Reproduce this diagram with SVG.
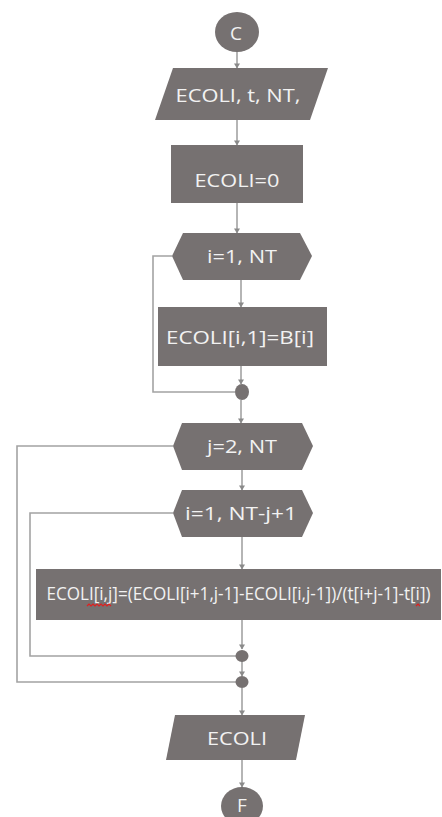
<svg xmlns="http://www.w3.org/2000/svg" width="442" height="817" viewBox="0 0 442 817">
<style>
.s{fill:#767171;stroke:none}
.t{fill:#f2f2f2;font-family:"Open Sans","Noto Sans","Liberation Sans",sans-serif;font-size:19px;text-anchor:middle}
.c{fill:none;stroke:#a3a3a3;stroke-width:1.6}
.sq{fill:none;stroke:#e02020;stroke-width:1.2}
</style>
<defs>
<marker id="b" markerWidth="7" markerHeight="6" refX="3.5" refY="5" markerUnits="userSpaceOnUse">
<path d="M0.5,0.5 L6.5,0.5 L3.5,5.5 Z" fill="#8a8a8a"/>
</marker>
</defs>
<g id="connectors">
<path class="c" d="M237,52 L237,68" marker-end="url(#b)"/>
<path class="c" d="M237,120 L237,145" marker-end="url(#b)"/>
<path class="c" d="M237,203 L237,233" marker-end="url(#b)"/>
<path class="c" d="M241,280 L241,307" marker-end="url(#b)"/>
<path class="c" d="M241,366 L241,384" marker-end="url(#b)"/>
<path class="c" d="M172,256 L153,256 L153,392 L235,392"/>
<path class="c" d="M241,400 L241,423" marker-end="url(#b)"/>
<path class="c" d="M242,470 L242,490" marker-end="url(#b)"/>
<path class="c" d="M242,537 L242,569" marker-end="url(#b)"/>
<path class="c" d="M242,620 L242,649" marker-end="url(#b)"/>
<path class="c" d="M173,513 L30,513 L30,656 L236,656"/>
<path class="c" d="M242,661 L242,676" marker-end="url(#b)"/>
<path class="c" d="M173,446 L17,446 L17,682 L236,682"/>
<path class="c" d="M242,688 L242,715" marker-end="url(#b)"/>
<path class="c" d="M242,760 L242,787" marker-end="url(#b)"/>
</g>
<g id="start">
<ellipse class="s" cx="237" cy="32" rx="22" ry="20"/>
<text class="t" x="236" y="40">C</text>
</g>
<g id="input1">
<polygon class="s" points="173,68 328,68 310,120 155,120"/>
<text class="t" x="238" y="102" textLength="125" lengthAdjust="spacingAndGlyphs">ECOLI, t, NT,</text>
</g>
<g id="init">
<rect class="s" x="171" y="145" width="132" height="58"/>
<text class="t" x="237" y="187" textLength="85" lengthAdjust="spacingAndGlyphs">ECOLI=0</text>
</g>
<g id="loop1">
<polygon class="s" points="172,256 183,233 300,233 312,256 300,280 183,280"/>
<text class="t" x="242" y="263" textLength="70" lengthAdjust="spacingAndGlyphs">i=1, NT</text>
</g>
<g id="assign1">
<rect class="s" x="158" y="307" width="169" height="59"/>
<text class="t" x="240" y="344" textLength="148" lengthAdjust="spacingAndGlyphs">ECOLI[i,1]=B[i]</text>
</g>
<g id="join1">
<ellipse class="s" cx="242" cy="392" rx="7" ry="8"/>
</g>
<g id="loop2">
<polygon class="s" points="173,446 182,423 302,423 313,446 302,470 182,470"/>
<text class="t" x="242" y="453" textLength="70" lengthAdjust="spacingAndGlyphs">j=2, NT</text>
</g>
<g id="loop3">
<polygon class="s" points="173,513 182,490 302,490 313,513 302,537 182,537"/>
<text class="t" x="241" y="520" textLength="112" lengthAdjust="spacingAndGlyphs">i=1, NT-j+1</text>
</g>
<g id="assign2">
<rect class="s" x="36" y="569" width="405" height="51"/>
<text class="t" x="238.5" y="600" font-size="15" textLength="384" lengthAdjust="spacingAndGlyphs">ECOLI[i,j]=(ECOLI[i+1,j-1]-ECOLI[i,j-1])/(t[i+j-1]-t[i])</text>
<path class="sq" d="M87,606 l2,-2 l2,2 l2,-2 l2,2 l2,-2 l2,2 l2,-2 l2,2 l2,-2 l2,2 l2,-2 l2,2"/>
<path class="sq" d="M416,606 l2,-2 l2,2"/>
</g>
<g id="join2">
<ellipse class="s" cx="242" cy="656" rx="6.5" ry="6"/>
</g>
<g id="join3">
<ellipse class="s" cx="242" cy="682" rx="6.5" ry="6"/>
</g>
<g id="output">
<polygon class="s" points="175,715 305,715 296,760 166,760"/>
<text class="t" x="237" y="745" textLength="60" lengthAdjust="spacingAndGlyphs">ECOLI</text>
</g>
<g id="end">
<ellipse class="s" cx="242" cy="806" rx="21" ry="19"/>
<text class="t" x="242" y="812">F</text>
</g>
</svg>
